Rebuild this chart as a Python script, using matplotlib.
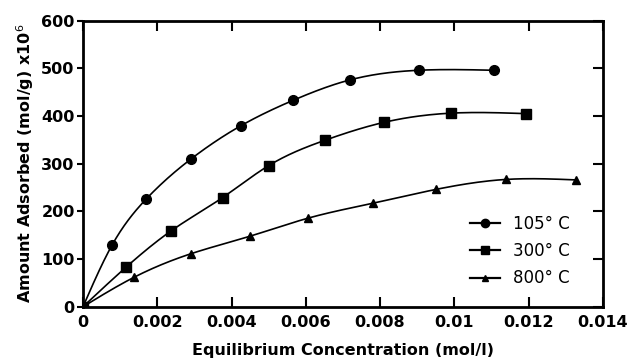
import numpy as np
import matplotlib
matplotlib.use("Agg")
import matplotlib.pyplot as plt

# data
conc_105 = [0, 0.00078, 0.00169, 0.00291, 0.00426, 0.00566, 0.0072, 0.00904, 0.01106]
ads_105 = [0, 129, 225, 310, 380, 433, 476, 496, 496]

conc_300 = [0, 0.00116, 0.00237, 0.00376, 0.0050, 0.00651, 0.00812, 0.0099, 0.01193]
ads_300 = [0, 83, 159, 229, 296, 349, 387, 406, 405]

conc_800 = [0, 0.00138, 0.0029, 0.0045, 0.00607, 0.0078, 0.0095, 0.01139, 0.01328]
ads_800 = [0, 62, 111, 148, 186, 217, 246, 267, 266]

labels = ["105° C", "300° C", "800° C"]
markers = ["o", "s", "^"]
msizes = [7, 6.5, 6]


def smooth(x, y, n=25):
    # natural cubic spline through the measured points, only for the drawn line
    x = np.asarray(x, float)
    y = np.asarray(y, float)
    N = len(x)
    h = np.diff(x)
    A = np.zeros((N, N))
    b = np.zeros(N)
    A[0, 0] = A[-1, -1] = 1
    for i in range(1, N - 1):
        A[i, i - 1] = h[i - 1]
        A[i, i] = 2 * (h[i - 1] + h[i])
        A[i, i + 1] = h[i]
        b[i] = 6 * ((y[i + 1] - y[i]) / h[i] - (y[i] - y[i - 1]) / h[i - 1])
    M = np.linalg.solve(A, b)
    xs, ys = [], []
    for i in range(N - 1):
        t = np.linspace(x[i], x[i + 1], n, endpoint=False)
        a = x[i + 1] - t
        c = t - x[i]
        s = (M[i] * a ** 3 + M[i + 1] * c ** 3) / (6 * h[i]) \
            + (y[i] / h[i] - M[i] * h[i] / 6) * a + (y[i + 1] / h[i] - M[i + 1] * h[i] / 6) * c
        xs.extend(t)
        ys.extend(s)
    xs.append(x[-1])
    ys.append(y[-1])
    return xs, ys


plt.rcParams["font.family"] = "DejaVu Sans"
fig = plt.figure(figsize=(6.27, 3.63), dpi=100)
ax = fig.add_axes([0.1324, 0.155, 0.829, 0.788])

series = [(conc_105, ads_105), (conc_300, ads_300), (conc_800, ads_800)]
for (cx, cy), lab, m, ms in zip(series, labels, markers, msizes):
    sx, sy = smooth(cx, cy)
    ax.plot(sx, sy, color="black", lw=1.2, zorder=2)
    ax.plot(cx, cy, ls="none", marker=m, ms=ms, color="black", zorder=3)
    ax.plot([], [], color="black", lw=1.6, marker=m, ms=ms - 1, label=lab)

ax.set_xlim(0, 0.014)
ax.set_ylim(0, 600)
ax.set_xticks(np.arange(0, 0.0141, 0.002))
ax.set_xticklabels(["0", "0.002", "0.004", "0.006", "0.008", "0.01", "0.012", "0.014"],
                   fontweight="bold")
ax.set_yticks(range(0, 601, 100))
ax.set_yticklabels([str(v) for v in range(0, 601, 100)], fontweight="bold")

for s in ax.spines.values():
    s.set_linewidth(2)
ax.tick_params(axis="x", direction="in", top=True, length=7, width=1.5,
               labelsize=11.5, pad=6)
ax.tick_params(axis="y", direction="out", length=4, width=1.5, labelsize=11.5, pad=2)

ax2 = ax.twinx()
ax2.set_ylim(0, 600)
ax2.set_yticks(range(0, 601, 100))
ax2.tick_params(axis="y", direction="in", length=7, width=1.5, labelright=False)
for s in ax2.spines.values():
    s.set_visible(False)

ax.set_xlabel("Equilibrium Concentration (mol/l)", fontsize=11.5, fontweight="bold",
              labelpad=9)
ax.set_ylabel("Amount Adsorbed (mol/g) x10$^6$", fontsize=11.5, fontweight="bold",
              labelpad=4)

ax.legend(loc="lower right", bbox_to_anchor=(0.965, 0.015), frameon=False,
          prop={"size": 12}, handlelength=1.8, handletextpad=0.8, labelspacing=0.55)

fig.savefig("out.png", dpi=100)
